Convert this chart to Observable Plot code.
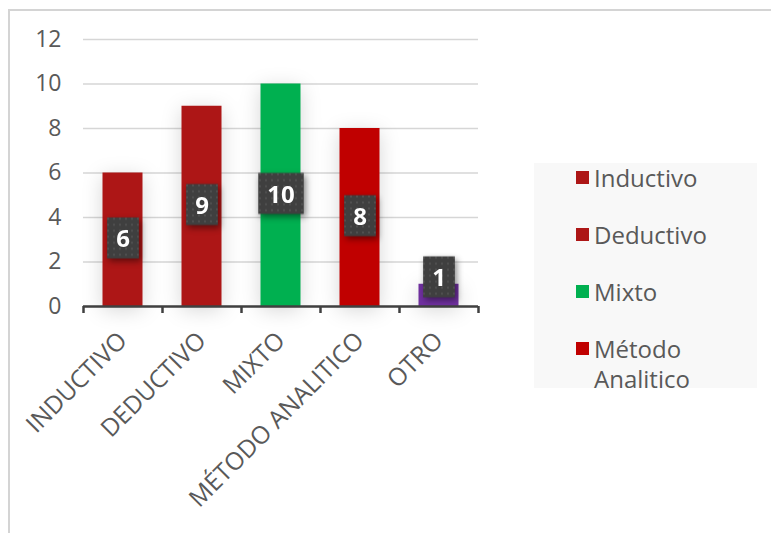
<!DOCTYPE html>
<html><head><meta charset="utf-8">
<script src="https://cdn.jsdelivr.net/npm/d3@7"></script>
<script src="https://cdn.jsdelivr.net/npm/@observablehq/plot@0.6"></script>
<style>
body{margin:0;background:#fff;font-family:"Open Sans",sans-serif;}
#wrap{position:relative;width:771px;height:533px;overflow:hidden;background:#fff;}
#frame{position:absolute;left:8px;top:9px;width:820px;height:600px;border:2px solid #d4d4d4;box-sizing:border-box;pointer-events:none;}
#chart{position:absolute;left:0;top:0;}
#legend{position:absolute;left:534px;top:163px;width:223px;height:225px;background:#f8f8f8;box-sizing:border-box;padding:0 0 0 42px;}
.item{display:flex;align-items:flex-start;margin-bottom:27px;font-size:24px;line-height:30px;color:#595959;}
.sw{width:13px;height:13px;flex:none;margin-top:8px;margin-right:5px;}
</style></head><body>
<div id="wrap"><div id="chart"></div><div id="legend"></div><div id="frame"></div></div>
<script>
const categories = ["INDUCTIVO", "DEDUCTIVO", "MIXTO", "MÉTODO ANALITICO", "OTRO"];
const values = [6, 9, 10, 8, 1];
const barColors = ["#ad1616", "#ad1616", "#00b050", "#c00000", "#7030a0"];
const legendLabels = ["Inductivo", "Deductivo", "Mixto", "Método Analitico"];
const legendColors = ["#ad1616", "#ad1616", "#00b050", "#c00000"];
const yTicks = [0, 2, 4, 6, 8, 10, 12];

const data = categories.map((c, i) => ({cat: c, value: values[i], color: barColors[i], labelY: Math.max(values[i] / 2, 1.25)}));

const W = 520, H = 533, ML = 83, MR = 42, MT = 39, MB = 227;
const halfStep = (W - ML - MR) / categories.length / 2;

const plot = Plot.plot({
  width: W, height: H,
  marginLeft: ML, marginRight: MR, marginTop: MT, marginBottom: MB,
  style: {fontFamily: "Open Sans, sans-serif", background: "transparent", overflow: "visible"},
  x: {domain: categories, padding: 0},
  y: {domain: [0, 12]},
  marks: [
    Plot.gridY(yTicks, {stroke: "#d6d6d6", strokeOpacity: 1, strokeWidth: 1.5}),
    Plot.barY(data, {x: "cat", y: "value", fill: "color", insetLeft: 19.5, insetRight: 19.5}),
    Plot.ruleY([0], {stroke: "#404040", strokeWidth: 2.5}),
    Plot.ruleX(categories, {x: d => d, y1: 0, y2: 0, insetBottom: -7, dx: -halfStep, stroke: "#404040", strokeWidth: 2.5}),
    Plot.ruleX(categories.slice(-1), {x: d => d, y1: 0, y2: 0, insetBottom: -7, dx: halfStep, stroke: "#404040", strokeWidth: 2.5}),
    Plot.axisY({ticks: yTicks, tickSize: 0, tickPadding: 22, fontSize: 23, fill: "#595959", label: null}),
    Plot.axisX({tickSize: 0, tickRotate: -45, tickPadding: 30, fontSize: 24.5, fill: "#595959", label: null}),
    Plot.text(data, {x: "cat", y: "labelY", text: d => String(d.value), fill: "white", fontSize: 24, fontWeight: "bold"})
  ]
});
document.getElementById("chart").appendChild(plot);

// soft shadow behind bars
const barG = plot.querySelector('g[aria-label="bar"]');
if (barG) barG.style.filter = "drop-shadow(0px 4px 10px rgba(0,0,0,0.16))";

// label boxes
const ns = "http://www.w3.org/2000/svg";
const defs = document.createElementNS(ns, "defs");
defs.innerHTML = `<pattern id="dots" width="6" height="6" patternUnits="userSpaceOnUse">
  <rect width="6" height="6" fill="#3f3f3f"/><circle cx="3" cy="3" r="0.9" fill="#585858"/></pattern>`;
plot.insertBefore(defs, plot.firstChild);
const labelG = plot.querySelector('g[aria-label="text"]');
if (labelG) {
  const boxG = document.createElementNS(ns, "g");
  const gt = labelG.getAttribute("transform");
  if (gt) boxG.setAttribute("transform", gt);
  boxG.style.filter = "drop-shadow(2px 3px 3px rgba(0,0,0,0.45))";
  labelG.parentNode.insertBefore(boxG, labelG);
  labelG.querySelectorAll("text").forEach(t => {
    const b = t.getBBox();
    const r = document.createElementNS(ns, "rect");
    const padX = 9;
    const h = 41;
    r.setAttribute("x", b.x - padX);
    r.setAttribute("y", b.y + b.height / 2 - h / 2);
    r.setAttribute("width", b.width + 2 * padX);
    r.setAttribute("height", h);
    r.setAttribute("fill", "url(#dots)");
    const tr = t.getAttribute("transform");
    if (tr) r.setAttribute("transform", tr);
    boxG.appendChild(r);
  });
}

// legend
const legend = document.getElementById("legend");
legendLabels.forEach((l, i) => {
  const it = document.createElement("div");
  it.className = "item";
  it.innerHTML = `<span class="sw" style="background:${legendColors[i]}"></span><span>${l}</span>`;
  legend.appendChild(it);
});
</script></body></html>
